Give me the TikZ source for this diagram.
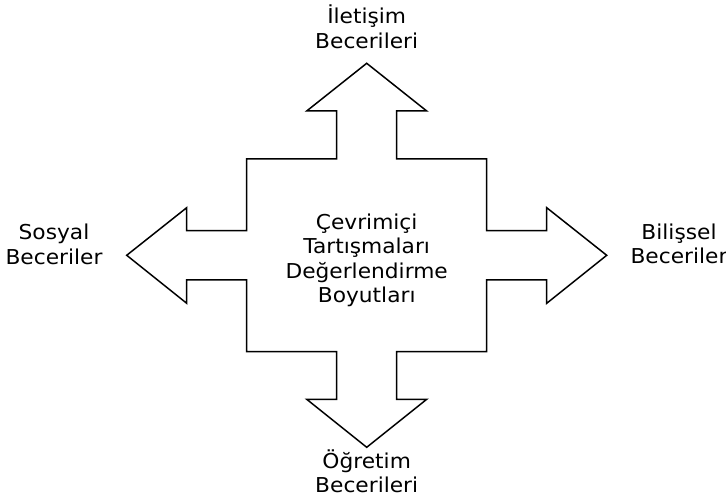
\documentclass[tikz,border=0pt]{standalone}
\usepackage{fontspec}
\setmainfont[FakeStretch=1.06]{DejaVu Sans}
\begin{document}
\begin{tikzpicture}[x=1pt,y=-1pt,
  lbl/.style={align=center,font=\fontsize{20.5}{24.5}\selectfont,inner sep=0pt,anchor=base},
  crossline/.style={draw=black,line width=1.5pt,line join=miter}]
\useasboundingbox (0,0) rectangle (726,502);
\coordinate (tt) at (366.7,63.3);
\coordinate (lt) at (126.7,255.3);
\coordinate (rt) at (606.7,255.3);
\coordinate (bt) at (366.7,447.3);
\draw[crossline] (tt) -- (426.7,111) -- (396.7,111) -- (396.7,159) -- (486.7,159)
  -- (486.7,230.7) -- (546.7,230.7) -- (546.7,207.7) -- (rt) -- (546.7,303.3) -- (546.7,280)
  -- (486.7,280) -- (486.7,351.6) -- (396.7,351.6) -- (396.7,399.3) -- (426.7,399.3)
  -- (bt) -- (306.7,399.3) -- (336.7,399.3) -- (336.7,351.6) -- (246.7,351.6)
  -- (246.7,280) -- (186.7,280) -- (186.7,303.3) -- (lt) -- (186.7,207.7) -- (186.7,230.7)
  -- (246.7,230.7) -- (246.7,159) -- (336.7,159) -- (336.7,111) -- (306.7,111) -- cycle;
\node[lbl] (top) at (366.7,48.5) {İletişim\\Becerileri};
\node[lbl] (bot) at (366.7,493) {Öğretim\\Becerileri};
\node[lbl] (lft) at (54,264.5) {Sosyal\\Beceriler};
\node[lbl] (rgt) at (679,264) {Bilişsel\\Beceriler};
\node[lbl] (mid) at (366.7,303) {Çevrimiçi\\Tartışmaları\\Değerlendirme\\Boyutları};
\end{tikzpicture}
\end{document}
